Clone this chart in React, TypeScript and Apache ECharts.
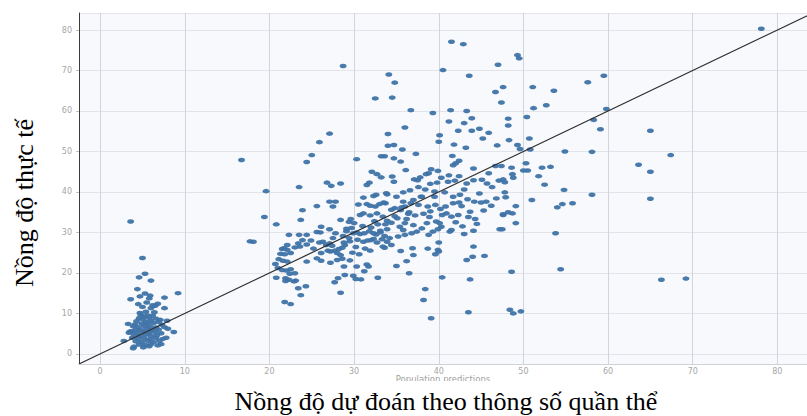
import React, { useEffect, useRef } from "react";
import * as echarts from "echarts";

// Observed points [predicted, actual]
const lowCluster: number[][] = [
  [3.6, 32.7], [5.0, 23.7], [5.3, 19.8], [4.6, 18.9], [6.0, 18.1], [4.4, 16.0], [9.2, 15.0], [5.3, 14.9],
  [4.7, 14.2], [5.9, 14.4], [5.8, 13.7], [7.6, 13.9], [3.6, 13.5], [5.5, 12.7], [4.5, 12.3], [6.2, 12.0],
  [6.5, 11.9], [6.0, 11.3], [7.6, 11.3], [5.4, 10.4], [8.7, 5.4], [7.8, 4.0], [2.8, 3.2], [3.9, 1.4],
  [7.2, 2.4], [3.5, 5.5], [3.4, 5.2], [4.8, 9.6], [5.2, 9.2], [5.6, 9.5], [6.2, 9.4], [4.6, 8.8],
  [5.0, 8.6], [5.8, 8.9], [6.6, 8.7], [7.1, 8.4], [4.3, 8.1], [5.4, 8.0], [6.0, 8.2], [6.9, 7.9],
  [4.1, 7.3], [4.9, 7.5], [5.6, 7.4], [6.3, 7.6], [7.3, 7.2], [3.9, 6.8], [4.5, 6.6], [5.2, 6.9],
  [5.9, 6.7], [6.6, 6.5], [7.6, 6.6], [4.2, 6.0], [4.8, 5.9], [5.5, 6.2], [6.1, 5.8], [6.9, 6.0],
  [3.7, 5.6], [4.4, 5.3], [5.1, 5.4], [5.8, 5.2], [6.5, 5.4], [7.2, 5.1], [4.0, 4.7], [4.7, 4.5],
  [5.4, 4.8], [6.0, 4.4], [6.7, 4.6], [3.8, 4.0], [4.5, 3.8], [5.2, 3.9], [5.9, 3.6], [6.6, 3.9],
  [7.4, 3.7], [4.2, 3.1], [4.9, 3.0], [5.6, 3.2], [6.3, 2.9], [7.0, 3.2], [4.6, 2.3], [5.3, 2.2],
  [6.0, 2.4], [6.8, 2.1], [4.0, 1.8], [5.1, 1.6], [5.8, 1.9], [8.0, 6.2], [7.9, 8.2], [3.3, 7.4],
  [4.7, 10.1], [6.4, 10.3], [5.0, 11.6], [6.8, 12.4],
];

const midCluster: number[][] = [
  [16.7, 47.9], [17.7, 27.8], [18.1, 27.7], [19.6, 40.2], [19.4, 33.8], [20.8, 32.0], [20.7, 22.2], [21.0, 21.2],
  [21.5, 20.7], [22.5, 20.9], [23.0, 19.9], [20.8, 18.8], [21.9, 18.7], [22.3, 18.3], [22.9, 17.9], [23.4, 16.2],
  [24.3, 16.7], [23.7, 14.5], [21.8, 12.8], [22.5, 12.3], [21.7, 26.1], [21.1, 23.4], [21.6, 23.0], [22.1, 22.8],
  [22.0, 20.6], [22.4, 19.8], [21.9, 18.0], [23.1, 18.1], [23.4, 27.3], [22.3, 29.4], [23.5, 29.4], [24.4, 29.4],
  [23.9, 28.1], [24.9, 28.0], [22.1, 26.9], [21.5, 25.9], [22.1, 25.7], [22.5, 24.9], [21.3, 24.7], [21.8, 24.6],
  [23.0, 26.3], [23.6, 26.5], [24.4, 22.8], [24.4, 27.0], [23.7, 33.1], [23.9, 35.5], [23.5, 41.2], [24.4, 47.4],
  [25.0, 49.1], [25.9, 52.3], [27.1, 54.4], [28.7, 71.1], [30.3, 48.1], [32.5, 63.1], [32.1, 45.0], [32.7, 44.4],
  [33.2, 43.6], [33.2, 48.8], [33.6, 48.8], [31.5, 41.7], [31.8, 42.3], [26.8, 42.3], [27.3, 41.5], [28.4, 42.1],
  [33.9, 39.4], [32.6, 39.3], [32.3, 39.0], [31.1, 38.6], [27.1, 37.6], [27.8, 37.6], [25.6, 36.5], [27.5, 36.4],
  [30.5, 36.9], [31.5, 37.0], [31.9, 36.6], [32.5, 36.4], [33.0, 37.0], [33.5, 37.4], [26.1, 31.4], [27.1, 30.8],
  [26.0, 30.0], [25.6, 30.1], [28.4, 33.1], [29.4, 32.6], [29.6, 33.3], [29.1, 30.9], [30.7, 34.3], [31.1, 34.7],
  [31.9, 34.2], [32.7, 34.7], [33.4, 33.9], [33.9, 32.9], [33.7, 32.0], [32.8, 32.0], [32.4, 32.8], [33.1, 30.4],
  [26.3, 27.7], [26.7, 26.9], [25.9, 27.5], [27.1, 27.3], [27.4, 26.7], [26.9, 25.5], [27.2, 25.3], [27.7, 25.5],
  [28.2, 25.9], [28.6, 26.2], [28.0, 24.9], [28.4, 24.4], [28.9, 26.9], [28.8, 27.5], [29.5, 27.8], [28.7, 29.1],
  [29.9, 29.8], [29.1, 30.3], [29.7, 31.1], [30.3, 30.0], [30.7, 29.6], [31.2, 29.8], [31.8, 30.3], [32.3, 29.8],
  [32.6, 29.5], [33.1, 30.0], [33.6, 29.1], [32.0, 28.1], [32.7, 27.5], [33.3, 28.3], [26.1, 23.0], [27.2, 22.5],
  [28.0, 23.2], [28.6, 23.5], [29.5, 23.1], [30.3, 21.6], [31.5, 22.1], [31.7, 21.6], [31.2, 20.4], [32.8, 18.8],
  [30.2, 18.5], [30.8, 18.4], [28.1, 18.7], [27.7, 17.7], [28.4, 15.1], [28.8, 21.6], [28.9, 19.5], [29.9, 19.3],
  [26.1, 24.9], [31.1, 27.7], [31.6, 28.0], [32.3, 28.4], [33.4, 26.5], [33.6, 26.2], [33.9, 27.7], [31.9, 25.5],
  [25.2, 26.0], [25.6, 23.6], [29.8, 25.0], [30.6, 24.6], [30.2, 26.4], [31.3, 26.0], [29.4, 28.6], [30.4, 28.2],
  [27.8, 29.8], [27.5, 28.6], [30.0, 32.3], [31.0, 31.6], [32.0, 31.2],
];

const rightCluster: number[][] = [
  [34.1, 69.0], [34.0, 54.3], [34.0, 51.4], [41.5, 77.1], [42.9, 76.5], [47.0, 71.4], [40.5, 70.1], [34.8, 67.0],
  [43.6, 68.7], [34.5, 63.3], [46.7, 64.7], [47.6, 65.9], [47.4, 62.1], [36.7, 60.2], [39.3, 59.5], [41.4, 60.2],
  [43.3, 60.0], [43.9, 58.2], [41.2, 57.4], [43.0, 57.0], [42.3, 55.1], [43.9, 55.1], [44.8, 55.6], [45.9, 54.6],
  [45.2, 53.2], [36.0, 55.9], [40.1, 54.0], [40.0, 52.4], [34.7, 51.6], [35.7, 50.5], [41.8, 51.7], [43.2, 50.9],
  [46.9, 51.5], [37.3, 49.4], [34.7, 48.3], [35.5, 47.5], [41.6, 48.9], [42.4, 47.7], [42.0, 47.1], [41.7, 46.6],
  [36.1, 45.4], [39.1, 45.6], [39.9, 45.2], [38.8, 44.6], [38.5, 44.4], [44.1, 45.8], [34.5, 43.8], [34.7, 42.5],
  [37.1, 43.1], [37.8, 43.6], [37.5, 42.9], [40.3, 43.5], [41.2, 44.1], [42.4, 43.9], [39.0, 42.0], [39.8, 42.3],
  [37.6, 41.2], [41.1, 42.5], [41.9, 42.8], [43.3, 42.1], [44.1, 42.9], [45.1, 43.0], [45.9, 44.6], [46.3, 41.2],
  [47.1, 42.8], [45.7, 42.1], [46.7, 46.4], [33.8, 39.7], [35.0, 38.8], [35.8, 39.9], [37.9, 38.8], [39.5, 40.1],
  [40.7, 39.9], [41.7, 38.8], [33.7, 37.2], [36.7, 37.2], [37.6, 36.8], [38.0, 38.8], [38.7, 36.4], [39.5, 38.8],
  [39.6, 36.8], [40.2, 35.8], [40.4, 34.3], [39.7, 32.7], [40.9, 34.7], [40.8, 36.4], [41.7, 37.2], [42.4, 37.4],
  [42.7, 36.5], [43.4, 38.2], [44.2, 37.6], [45.0, 37.4], [45.6, 37.6], [43.7, 35.1], [44.3, 33.3], [44.5, 32.1],
  [42.3, 34.3], [41.5, 33.9], [40.3, 31.4], [39.9, 30.8], [39.3, 30.2], [40.1, 32.3], [38.6, 32.3], [38.0, 31.0],
  [37.4, 30.2], [36.8, 29.8], [36.0, 29.4], [35.2, 29.0], [34.2, 28.6], [33.9, 30.8], [34.4, 32.4], [35.4, 31.4],
  [36.0, 32.3], [36.2, 33.3], [35.1, 33.5], [47.6, 34.3], [47.2, 30.8], [41.3, 30.2], [41.5, 30.6], [43.0, 29.6],
  [44.1, 30.4], [40.0, 27.5], [39.9, 25.7], [40.0, 25.3], [39.6, 24.6], [38.7, 26.0], [36.9, 26.1], [37.0, 24.4],
  [35.5, 25.4], [34.4, 26.9], [36.2, 22.9], [35.0, 21.7], [36.5, 19.9], [44.1, 26.5], [44.0, 24.0], [43.3, 23.2],
  [45.4, 24.2], [40.4, 18.9], [43.7, 18.4], [38.4, 16.0], [38.2, 13.3], [39.1, 8.8], [43.5, 10.3],
  [35.5, 35.5], [36.5, 35.0], [37.2, 34.2], [38.2, 34.6], [38.9, 33.8], [37.0, 38.0], [36.0, 36.4], [34.8, 36.0],
  [35.8, 37.6], [39.0, 35.2], [42.0, 32.5], [42.8, 31.5], [43.5, 33.8], [45.3, 35.4], [46.2, 36.6], [46.8, 38.4],
  [44.8, 39.6], [43.0, 40.6], [38.4, 40.6], [36.6, 40.4], [42.5, 39.3], [34.4, 35.6], [35.6, 36.2], [36.4, 34.6],
  [37.0, 31.8], [35.8, 30.6], [38.8, 29.4], [34.8, 34.0],
  [49.3, 73.8], [49.5, 73.0], [48.2, 58.1], [48.2, 56.4], [48.3, 52.8], [49.3, 51.6], [49.6, 50.6], [47.4, 46.4],
  [48.6, 46.0], [48.7, 44.4], [48.8, 43.5], [47.6, 43.1], [47.8, 42.4], [47.8, 39.9], [47.9, 38.7], [49.1, 36.5],
  [47.6, 34.5], [48.2, 35.0], [48.7, 34.7], [49.1, 32.3], [47.5, 30.8], [48.6, 20.3], [48.4, 10.9], [48.8, 10.0],
  [49.7, 10.5],
];

const farPoints: number[][] = [
  [59.5, 68.7], [57.6, 67.1], [51.1, 65.9], [53.6, 65.0], [52.7, 61.4], [51.2, 60.7], [59.8, 60.5], [58.3, 57.8],
  [59.1, 55.5], [50.4, 58.5], [50.7, 53.2], [50.8, 50.5], [54.9, 50.0], [58.1, 49.9], [50.3, 47.1], [50.0, 45.3],
  [50.5, 45.3], [52.2, 46.0], [53.2, 46.2], [51.8, 43.9], [52.5, 41.8], [54.8, 40.5], [58.1, 39.3], [51.0, 38.0],
  [54.0, 36.2], [54.6, 37.0], [55.8, 37.2], [53.8, 29.8], [54.4, 20.9], [78.1, 80.3], [65.0, 55.1], [67.4, 49.1],
  [63.6, 46.7], [65.0, 45.0], [65.0, 38.3], [66.3, 18.3], [69.2, 18.6],
];

const identityLine: number[][] = [[-2.5, -2.5], [84.2, 84.2]];

const xTitle = "Nồng độ dự đoán theo thông số quần thể";
const yTitle = "Nồng độ thực tế";
const innerXName = "Population predictions";

export default function App() {
  const ref = useRef<HTMLDivElement>(null);
  useEffect(() => {
    const chart = echarts.init(ref.current as HTMLDivElement, null, { renderer: "svg" });
    const points = [...lowCluster, ...midCluster, ...rightCluster, ...farPoints];
    chart.setOption({
      animation: false,
      backgroundColor: "#ffffff",
      grid: {
        left: 79, right: 0, top: 13, bottom: 52,
        show: true, backgroundColor: "#f8f9fd", borderWidth: 0,
        outerBoundsMode: "none",
      },
      xAxis: {
        type: "value", min: -2.5, max: 83.5, splitNumber: 9,
        axisLine: { show: true, onZero: false, lineStyle: { color: "#d2d2d8", width: 1 } },
        axisTick: { show: false },
        axisLabel: { color: "#a6a6a6", fontSize: 8, fontFamily: "DejaVu Sans", margin: 3, showMinLabel: false, showMaxLabel: false },
        splitLine: { show: true, lineStyle: { color: "#d3d3dc", width: 1 } },
      },
      yAxis: {
        type: "value", min: -2.5, max: 84.2, splitNumber: 9,
        axisLine: { show: true, onZero: false, lineStyle: { color: "#3c3c3c", width: 1 } },
        axisTick: { show: true, length: 3, lineStyle: { color: "#c4c4c4" } },
        axisLabel: { color: "#a6a6a6", fontSize: 8, fontFamily: "DejaVu Sans", margin: 7, showMinLabel: false, showMaxLabel: false },
        splitLine: { show: true, lineStyle: { color: "#e3e3ea", width: 1 } },
      },
      series: [
        {
          type: "scatter",
          data: points,
          symbol: "circle",
          symbolSize: [7, 4.5],
          itemStyle: { color: "#3f73a8", opacity: 0.95 },
          silent: true,
          z: 2,
        },
        {
          type: "line",
          data: identityLine,
          showSymbol: false,
          symbol: "none",
          clip: true,
          lineStyle: { color: "#2e2e2e", width: 1.2 },
          silent: true,
          z: 3,
        },
      ],
      graphic: [
        {
          type: "text", x: 443, y: 378.5, z: 10,
          style: { text: innerXName, fontSize: 8.5, fontFamily: "DejaVu Sans", fill: "#a0a0a0", align: "center", verticalAlign: "middle" },
        },
        {
          type: "rect", z: 11, shape: { x: 0, y: 381, width: 807, height: 36 },
          style: { fill: "#ffffff" },
        },
        {
          type: "text", x: 446, y: 401, z: 12,
          style: { text: xTitle, fontSize: 26, fontFamily: "Liberation Serif", fill: "#000000", align: "center", verticalAlign: "middle" },
        },
        {
          type: "text", x: 24, y: 203, z: 12, rotation: Math.PI / 2,
          style: { text: yTitle, fontSize: 26, fontFamily: "Liberation Serif", fill: "#000000", align: "center", verticalAlign: "middle" },
        },
      ],
    });
    return () => chart.dispose();
  }, []);
  return (
    <div
      ref={ref}
      style={{ position: "fixed", left: 0, top: 0, width: 807, height: 416, background: "#ffffff" }}
    />
  );
}
